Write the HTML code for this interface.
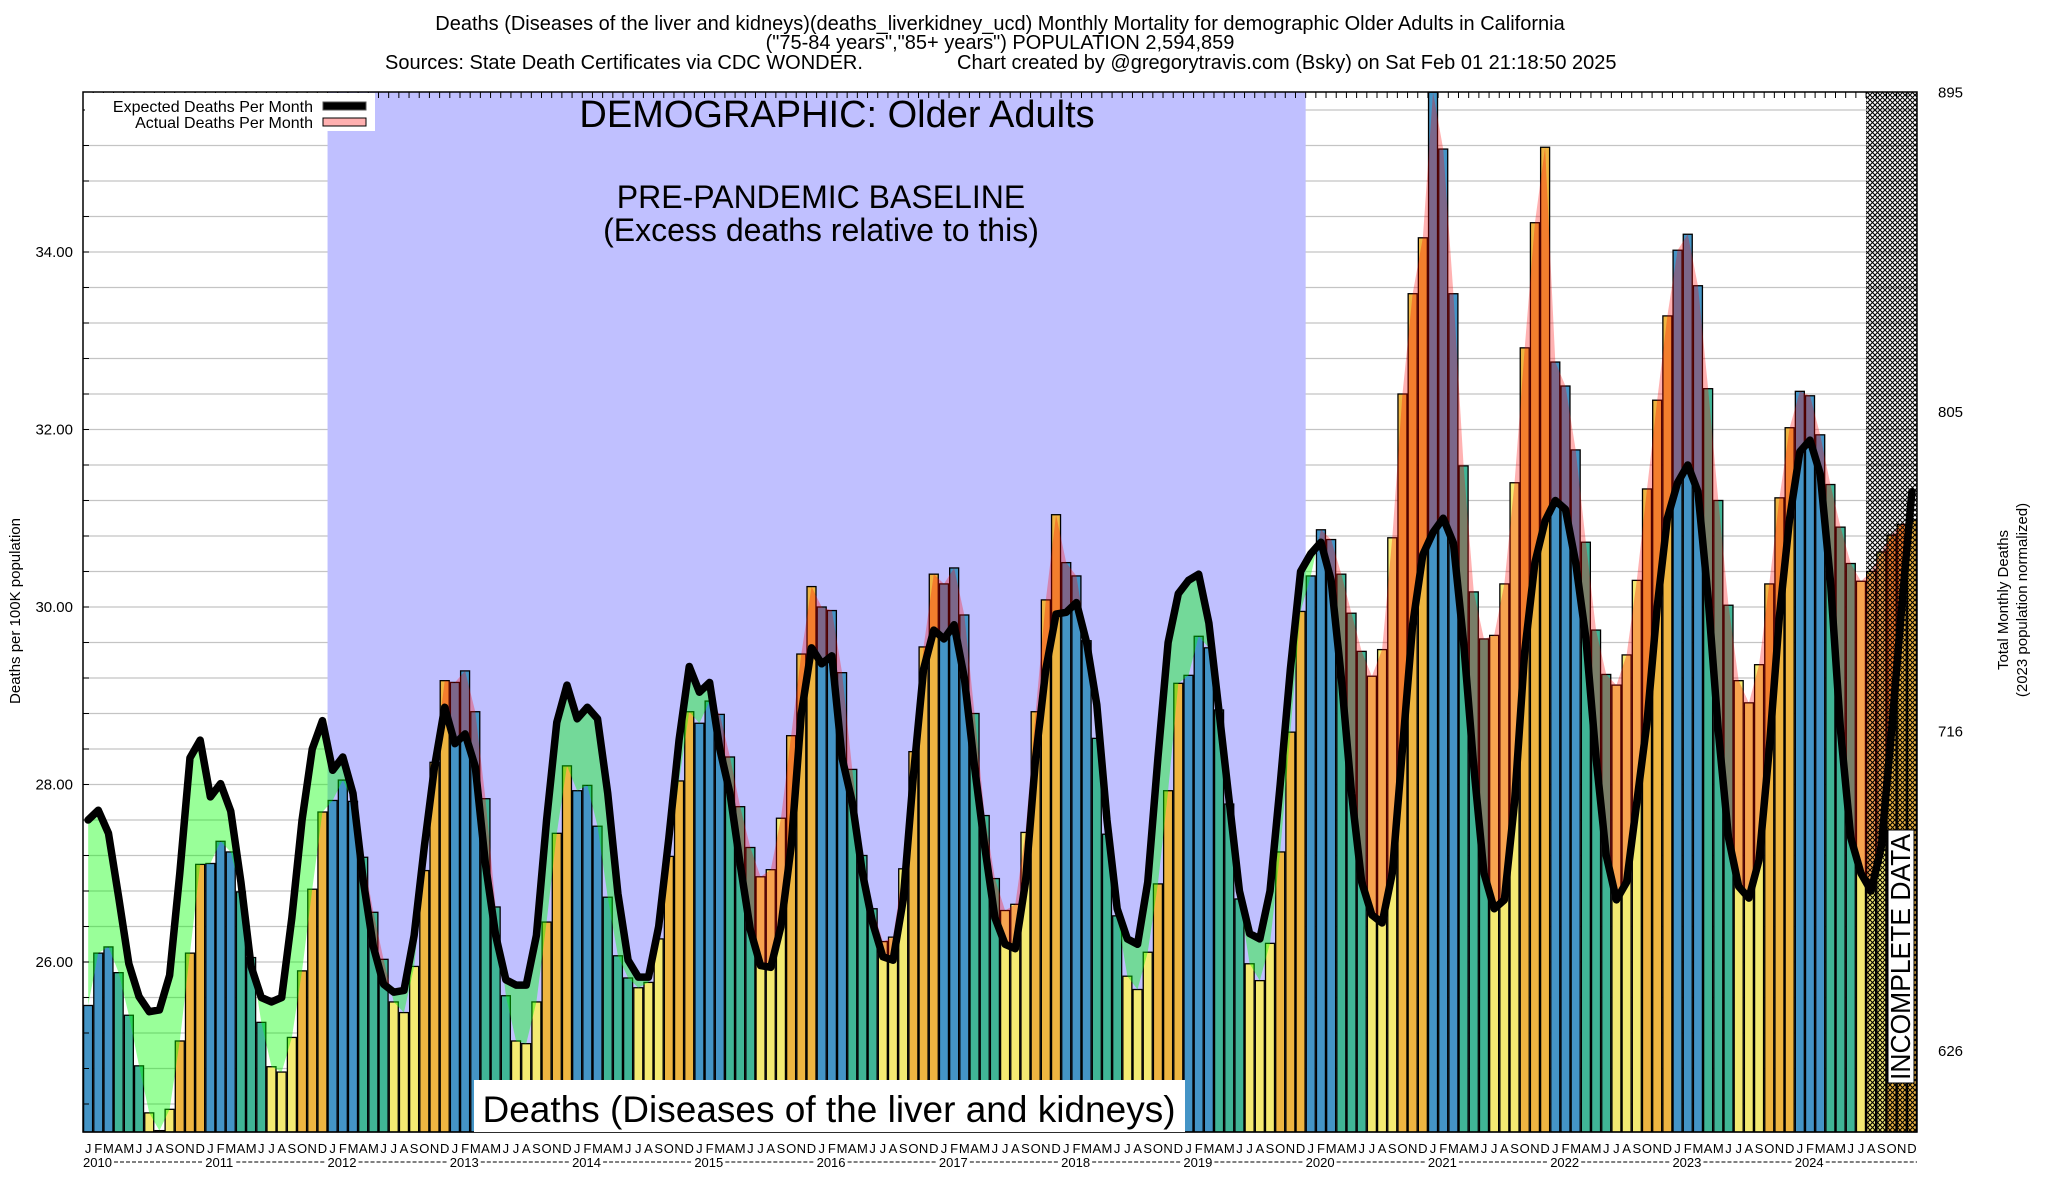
<!DOCTYPE html>
<html><head><meta charset="utf-8"><style>
html,body{margin:0;padding:0;background:#fff;}
svg{display:block;font-family:"Liberation Sans",Arial,sans-serif;}
</style></head><body>
<svg id="chart" width="2048" height="1200" viewBox="0 0 2048 1200" xmlns="http://www.w3.org/2000/svg">
<defs>
<pattern id="hatch" width="5" height="5" patternUnits="userSpaceOnUse">
<path d="M0,0 L5,5 M5,0 L0,5" stroke="#000" stroke-width="1.1" fill="none"/>
</pattern>
</defs>
<rect x="0" y="0" width="2048" height="1200" fill="#fff"/>
<g font-size="20" fill="#000">
<text x="1000" y="30" text-anchor="middle">Deaths (Diseases of the liver and kidneys)(deaths_liverkidney_ucd) Monthly Mortality for demographic Older Adults in California</text>
<text x="1000" y="49" text-anchor="middle">("75-84 years","85+ years") POPULATION 2,594,859</text>
<text x="385" y="69">Sources: State Death Certificates via CDC WONDER.</text>
<text x="957" y="69">Chart created by @gregorytravis.com (Bsky) on Sat Feb 01 21:18:50 2025</text>
</g>
<g id="grid"></g>
<rect id="baseline" fill="#c0c0ff"/>
<g id="bars"></g>
<g id="fills"></g>
<path id="expLine" fill="none" stroke="#000" stroke-width="7.5" stroke-linejoin="round" stroke-linecap="round"/>
<rect id="hatchRect" fill="url(#hatch)"/>
<g id="axes"></g>
<g>
<rect x="85" y="93" width="290" height="38" fill="#fff"/>
<text x="313" y="112" text-anchor="end" font-size="16">Expected Deaths Per Month</text>
<rect x="323" y="102" width="43" height="8" fill="#000" stroke="#555"/>
<text x="313" y="128" text-anchor="end" font-size="16">Actual Deaths Per Month</text>
<rect x="323" y="118" width="43" height="8" fill="#ffb0b0" stroke="#000"/>
</g>
<text x="837" y="127" text-anchor="middle" font-size="38">DEMOGRAPHIC: Older Adults</text>
<text x="821" y="208" text-anchor="middle" font-size="32">PRE-PANDEMIC BASELINE</text>
<text x="821" y="241" text-anchor="middle" font-size="32">(Excess deaths relative to this)</text>
<rect x="474" y="1080" width="711" height="52" fill="#fff"/>
<text x="829" y="1122" text-anchor="middle" font-size="37">Deaths (Diseases of the liver and kidneys)</text>
<rect x="1888" y="830" width="26" height="253" fill="#fff" stroke="#000" stroke-width="1"/>
<text transform="translate(1910,1080) rotate(-90)" font-size="28" textLength="246" lengthAdjust="spacingAndGlyphs">INCOMPLETE DATA</text>
<text transform="translate(20,611) rotate(-90)" text-anchor="middle" font-size="15">Deaths per 100K population</text>
<text transform="translate(2008,600) rotate(-90)" text-anchor="middle" font-size="15">Total Monthly Deaths</text>
<text transform="translate(2027,600) rotate(-90)" text-anchor="middle" font-size="15">(2023 population normalized)</text>
</svg>
<script>
const monthLetters = ["J","F","M","A","M","J","J","A","S","O","N","D"];
const years = [2010,2011,2012,2013,2014,2015,2016,2017,2018,2019,2020,2021,2022,2023,2024];
const actual = [
25.51,26.10,26.17,25.88,25.40,24.83,24.30,24.10,24.34,25.11,26.10,27.10,
27.11,27.36,27.24,26.79,26.05,25.32,24.82,24.76,25.15,25.90,26.82,27.69,
27.82,28.05,27.81,27.18,26.56,26.03,25.55,25.43,25.95,27.03,28.25,29.17,
29.15,29.28,28.82,27.84,26.62,25.62,25.11,25.08,25.55,26.45,27.45,28.21,
27.93,27.99,27.53,26.73,26.07,25.82,25.71,25.77,26.26,27.19,28.04,28.82,
28.69,28.94,28.79,28.31,27.75,27.29,26.96,27.04,27.62,28.55,29.47,30.23,
30.00,29.96,29.26,28.17,27.20,26.60,26.23,26.28,27.05,28.37,29.55,30.37,
30.26,30.44,29.91,28.80,27.65,26.94,26.58,26.65,27.46,28.82,30.08,31.04,
30.50,30.35,29.62,28.52,27.44,26.52,25.84,25.69,26.11,26.88,27.93,29.14,
29.23,29.67,29.54,28.84,27.78,26.71,25.98,25.79,26.21,27.24,28.59,29.95,
30.35,30.87,30.76,30.37,29.93,29.50,29.22,29.52,30.78,32.40,33.53,34.16,
35.80,35.16,33.53,31.59,30.17,29.64,29.68,30.26,31.40,32.92,34.33,35.18,
32.76,32.49,31.77,30.73,29.74,29.24,29.12,29.46,30.30,31.33,32.33,33.28,
34.02,34.20,33.62,32.46,31.20,30.02,29.17,28.92,29.35,30.26,31.23,32.02,
32.43,32.38,31.94,31.38,30.90,30.49,30.29,30.40,30.62,30.81,30.93,30.98];
const expected = [
27.60,27.71,27.45,26.73,25.98,25.61,25.44,25.46,25.85,27.00,28.30,28.50,
27.86,28.01,27.70,26.90,25.95,25.60,25.55,25.60,26.50,27.60,28.40,28.72,
28.16,28.31,27.90,26.92,26.17,25.75,25.66,25.68,26.30,27.30,28.20,28.87,
28.46,28.57,28.20,27.10,26.30,25.80,25.74,25.74,26.30,27.60,28.70,29.12,
28.74,28.87,28.74,27.90,26.77,26.02,25.83,25.83,26.40,27.40,28.50,29.33,
29.04,29.15,28.40,27.90,27.10,26.36,25.96,25.94,26.40,27.30,28.80,29.54,
29.36,29.45,28.30,27.80,27.00,26.44,26.06,26.02,26.70,28.10,29.30,29.74,
29.64,29.80,29.20,28.20,27.30,26.50,26.20,26.15,26.90,28.30,29.30,29.92,
29.94,30.05,29.60,28.90,27.60,26.60,26.26,26.20,26.90,28.30,29.60,30.15,
30.30,30.37,29.82,28.82,27.81,26.80,26.32,26.26,26.80,28.00,29.30,30.40,
30.60,30.73,30.30,29.20,27.90,26.90,26.53,26.44,27.00,28.40,29.80,30.59,
30.84,31.00,30.72,29.60,28.20,27.00,26.60,26.70,27.80,29.50,30.50,30.97,
31.20,31.10,30.50,29.65,28.30,27.20,26.70,26.90,27.80,28.70,30.00,31.00,
31.40,31.60,31.30,30.10,28.60,27.40,26.85,26.72,27.15,28.40,29.90,31.00,
31.75,31.88,31.50,30.30,28.60,27.40,27.00,26.80,27.30,28.60,30.00,31.30];
const leftTicks = ["26.00","28.00","30.00","32.00","34.00"];
const rightTicks = ["626","716","805","895"];
const rightTickVals = [25.0,28.6,32.2,35.8];
const monthColors = ["#4494c6","#4494c6","#4494c6","#40b596","#40b596","#40b596","#f4ea72","#f4ea72","#f4ea72","#eeb541","#eeb541","#eeb541"];

const NS = "http://www.w3.org/2000/svg";
const X0 = 83, X1 = 1917, YTOP = 92, YBOT = 1132;
const N = actual.length;
const BW = (X1 - X0) / 180;
const yv = v => 252 + (34 - v) * 88.75;
const xl = i => X0 + i * BW;
const xc = i => X0 + (i + 0.5) * BW;
function mk(tag, attrs, parent){ const e = document.createElementNS(NS, tag); for (const k in attrs) e.setAttribute(k, attrs[k]); parent.appendChild(e); return e; }
const svg = document.getElementById('chart');

const grid = document.getElementById('grid');
for (let g = 24.4; g < 35.7; g += 0.4) {
  const l = mk('line', {x1: X0, x2: X1, y1: yv(g), y2: yv(g), stroke: '#c4c4c4', 'stroke-width': 1.3}, grid);
  
  
}
const br = document.getElementById('baseline');
br.setAttribute('x', xl(24)); br.setAttribute('y', YTOP);
br.setAttribute('width', xl(120) - xl(24)); br.setAttribute('height', YBOT - YTOP);

const bars = document.getElementById('bars');
for (let i = 0; i < N; i++) {
  const top = Math.max(yv(actual[i]), YTOP);
  const r = mk('rect', {x: xl(i) + 0.6, y: top, width: BW - 1.2, height: YBOT - top, fill: monthColors[i % 12], stroke: '#000', 'stroke-width': 1.3}, bars);
  
  
}

const defs = svg.querySelector('defs');
let expPts = [], actPts = [];
for (let i = 0; i < N; i++) { expPts.push(xc(i) + ',' + yv(expected[i])); actPts.push(xc(i) + ',' + Math.max(yv(actual[i]), YTOP)); }
const cpA = mk('clipPath', {id: 'aboveExp'}, defs);


mk('polygon', {points: xc(0) + ',' + YTOP + ' ' + expPts.join(' ') + ' ' + xc(N - 1) + ',' + YTOP}, cpA);
const cpB = mk('clipPath', {id: 'belowExp'}, defs);


mk('polygon', {points: xc(0) + ',' + YBOT + ' ' + expPts.join(' ') + ' ' + xc(N - 1) + ',' + YBOT}, cpB);
const fills = document.getElementById('fills');
const red = mk('polygon', {points: xc(0) + ',' + YBOT + ' ' + actPts.join(' ') + ' ' + xc(N - 1) + ',' + YBOT, fill: 'rgba(255,0,0,0.3)', 'clip-path': 'url(#aboveExp)'}, fills);


const green = mk('polygon', {points: xc(0) + ',' + YTOP + ' ' + actPts.join(' ') + ' ' + xc(N - 1) + ',' + YTOP, fill: 'rgba(0,255,0,0.4)', 'clip-path': 'url(#belowExp)'}, fills);



document.getElementById('expLine').setAttribute('d', 'M' + expPts.join(' L'));

const hr = document.getElementById('hatchRect');
hr.setAttribute('x', xl(175)); hr.setAttribute('y', YTOP);
hr.setAttribute('width', X1 - xl(175)); hr.setAttribute('height', YBOT - YTOP);

const axes = document.getElementById('axes');
const frame = mk('rect', {x: X0, y: YTOP, width: X1 - X0, height: YBOT - YTOP, fill: 'none', stroke: '#000', 'stroke-width': 1.5}, axes);


for (let i = 0; i <= 180; i++) {
  const t = mk('line', {x1: xl(i), x2: xl(i), y1: YTOP, y2: YTOP + 6, stroke: '#000', 'stroke-width': 1}, axes);
  
  
}
for (let g = 24.4; g < 35.7; g += 0.4) {
  const t = mk('line', {x1: X0, x2: X0 + 6, y1: yv(g), y2: yv(g), stroke: '#000', 'stroke-width': 1}, axes);
  
  
}
leftTicks.forEach(s => {
  const t = mk('text', {x: 73, y: yv(parseFloat(s)) + 5, 'text-anchor': 'end', 'font-size': 15}, axes);
  t.textContent = s;
  
  
});
rightTicks.forEach((s, k) => {
  const t = mk('text', {x: 1938, y: yv(rightTickVals[k]) + 5, 'font-size': 15}, axes);
  t.textContent = s;
  
  
});
for (let i = 0; i < N; i++) {
  const t = mk('text', {x: xc(i), y: 1153, 'text-anchor': 'middle', 'font-size': 13}, axes);
  t.textContent = monthLetters[i % 12];
  
  
}
years.forEach((yr, k) => {
  const x = xl(k * 12);
  const t = mk('text', {x: x, y: 1167, 'font-size': 13}, axes);
  t.textContent = String(yr);
  
  
  const end = k < years.length - 1 ? xl((k + 1) * 12) - 2 : X1;
  const d = mk('line', {x1: x + 31, x2: end, y1: 1162, y2: 1162, stroke: '#000', 'stroke-width': 1, 'stroke-dasharray': '4,2'}, axes);
  
  
});
</script>
</body></html>
